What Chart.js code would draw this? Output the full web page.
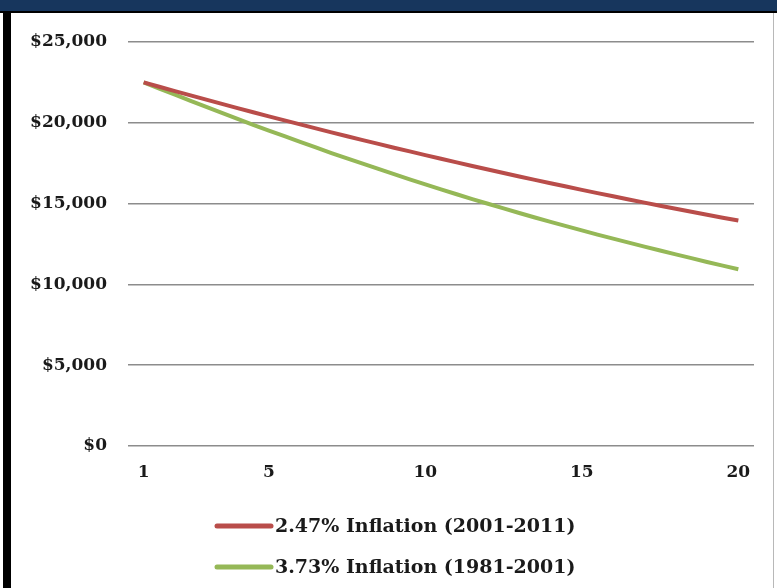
<!DOCTYPE html>
<html>
<head>
  <meta charset="utf-8">
  <title>Inflation</title>
  <script src="https://cdn.jsdelivr.net/npm/chart.js@4.4.0/dist/chart.umd.min.js"></script>
  <style>
    body { margin: 0; background: #fff; }
    #wrap { position: relative; width: 777px; height: 588px; overflow: hidden; }
    #topbar { position: absolute; left: 0; top: 0; width: 777px; height: 11px; background: #17365d; }
    #topline { position: absolute; left: 0; top: 11px; width: 777px; height: 2px; background: #000; }
    #leftbar { position: absolute; left: 3px; top: 11px; width: 8px; height: 577px; background: #000; }
    #rightline { position: absolute; left: 773px; top: 13px; width: 1px; height: 575px; background: #b8b8b8; }
    canvas { position: absolute; left: 0; top: 0; }
  </style>
</head>
<body>
  <div id="wrap">
    <canvas id="chart" width="777" height="588"></canvas>
    <div id="topbar"></div>
    <div id="topline"></div>
    <div id="leftbar"></div>
    <div id="rightline"></div>
  </div>

  <script>
    const years = ['1', '2', '3', '4', '5', '6', '7', '8', '9', '10',
      '11', '12', '13', '14', '15', '16', '17', '18', '19', '20'];
    const shownYears = ['1', '5', '10', '15', '20'];

    const labelRed = '2.47% Inflation (2001-2011)';
    const valuesRed = [22500, 21960, 21430, 20910, 20400, 19900, 19410, 18930, 18460, 18000,
      17550, 17110, 16680, 16260, 15850, 15450, 15060, 14680, 14310, 13950];

    const labelGreen = '3.73% Inflation (1981-2001)';
    const valuesGreen = [22500, 21740, 20980, 20240, 19520, 18820, 18130, 17470, 16820, 16190,
      15580, 14990, 14420, 13870, 13340, 12830, 12340, 11860, 11390, 10940];

    const serif = '"DejaVu Serif", "Liberation Serif", serif';

    // legend drawn by hand: two rows stacked under the axis
    const stackedLegend = {
      id: 'stackedLegend',
      afterDraw(chart) {
        const ctx = chart.ctx;
        ctx.save();
        ctx.font = 'bold 19px ' + serif;
        ctx.textBaseline = 'middle';
        ctx.fillStyle = '#1a1a1a';
        chart.data.datasets.forEach((ds, i) => {
          const y = 526 + i * 41;
          ctx.strokeStyle = ds.borderColor;
          ctx.lineWidth = 5;
          ctx.lineCap = 'round';
          ctx.beginPath();
          ctx.moveTo(217, y);
          ctx.lineTo(271, y);
          ctx.stroke();
          ctx.fillText(ds.label, 275, y + 1);
        });
        ctx.restore();
      }
    };

    new Chart(document.getElementById('chart'), {
      type: 'line',
      data: {
        labels: years,
        datasets: [{
          label: labelRed,
          data: valuesRed,
          borderColor: '#b94d4a',
          borderWidth: 4,
          pointRadius: 0,
          tension: 0.4,
          fill: false
        }, {
          label: labelGreen,
          data: valuesGreen,
          borderColor: '#95b857',
          borderWidth: 4,
          pointRadius: 0,
          tension: 0.4,
          fill: false
        }]
      },
      options: {
        responsive: false,
        animation: false,
        layout: { padding: { top: 42, right: 23, left: 0, bottom: 0 } },
        plugins: {
          legend: { display: false },
          tooltip: { enabled: false }
        },
        scales: {
          x: {
            offset: true,
            grid: { display: false, drawTicks: false },
            border: { display: false },
            ticks: {
              autoSkip: false,
              maxRotation: 0,
              padding: 16,
              color: '#1a1a1a',
              font: { family: serif, size: 17, weight: 'bold' },
              callback: function (v) {
                const l = this.getLabelForValue(v);
                return shownYears.includes(l) ? l : '';
              }
            },
            afterFit: (s) => { s.height = 142; }
          },
          y: {
            min: 0,
            max: 25000,
            grid: { color: '#8c8c8c', lineWidth: 1.5, drawTicks: false },
            border: { display: false },
            ticks: {
              stepSize: 5000,
              padding: 21,
              color: '#1a1a1a',
              font: { family: serif, size: 17, weight: 'bold' },
              callback: (v) => '$' + v.toLocaleString('en-US')
            },
            afterFit: (s) => { s.width = 128; }
          }
        }
      },
      plugins: [stackedLegend]
    });
  </script>
</body>
</html>
